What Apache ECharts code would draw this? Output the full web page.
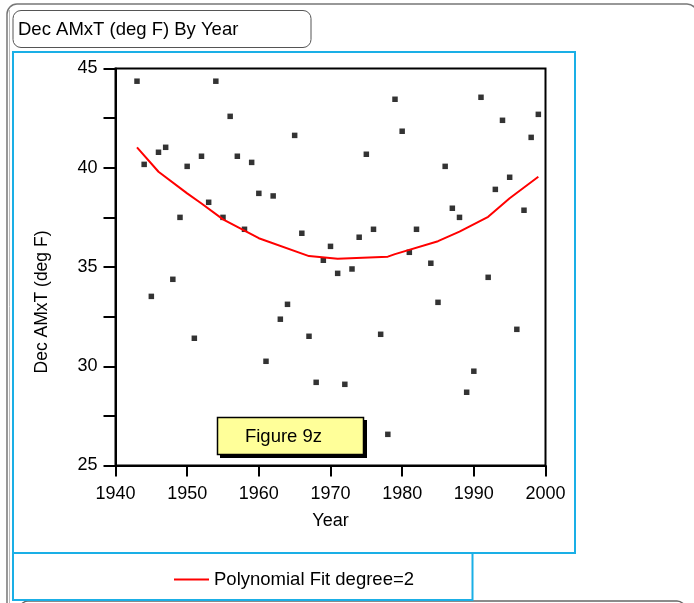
<!DOCTYPE html>
<html>
<head>
<meta charset="utf-8">
<script src="https://cdn.jsdelivr.net/npm/echarts@6/dist/echarts.min.js"></script>
<style>
html,body{margin:0;padding:0;background:#fff;}
#chart{width:694px;height:603px;}
</style>
</head>
<body>
<div id="chart"></div>
<script>
// Observed data
var years = [1943,1944,1945,1946,1947,1948,1949,1950,1951,1952,1953,1954,1955,1956,1957,1958,1959,1960,1961,1962,1963,1964,1965,1966,1967,1968,1969,1970,1971,1972,1973,1974,1975,1976,1977,1978,1979,1980,1981,1982,1984,1985,1986,1987,1988,1989,1990,1991,1992,1993,1994,1995,1996,1997,1998,1999];
var values = [44.36,40.17,33.52,40.78,41.03,34.38,37.50,40.07,31.41,40.58,38.26,44.36,37.50,42.59,40.58,36.90,40.27,38.71,30.25,38.58,32.37,33.12,41.63,36.70,31.51,29.19,35.34,36.04,34.68,29.09,34.90,36.50,40.68,36.90,31.61,26.57,43.45,41.84,35.74,36.90,35.19,33.22,40.07,37.96,37.50,28.69,29.75,43.55,34.48,38.91,42.39,39.52,31.86,37.86,41.53,42.69];
// Polynomial fit curve
var fitYears = [1943,1946,1950,1952,1955,1960,1967,1971,1978,1979,1985,1988,1992,1995,1999];
var fitValues = [41.03,39.80,38.71,38.20,37.40,36.45,35.55,35.42,35.52,35.65,36.30,36.78,37.53,38.46,39.55];
var xTicks = [1940,1950,1960,1970,1980,1990,2000];
var yTicks = [25,30,35,40,45];

var FONT = '"Liberation Sans", Arial, sans-serif';
var scatterData = years.map(function(y,i){return [y, values[i]];});
var fitData = fitYears.map(function(y,i){return [y, fitValues[i]];});
var BLUE = '#1aafe6';

var chart = echarts.init(document.getElementById('chart'), null, {renderer:'canvas'});
chart.setOption({
  animation:false,
  backgroundColor:'#fff',
  grid:{left:115.5, right:148.5, top:68.5, bottom:137.5, show:true, borderColor:'#000', borderWidth:2, backgroundColor:'transparent'},
  xAxis:{
    type:'value', min:xTicks[0], max:xTicks[xTicks.length-1], interval:10,
    axisLine:{show:true, onZero:false, lineStyle:{color:'#000', width:2}},
    axisTick:{show:true, length:11, lineStyle:{color:'#000', width:2}},
    axisLabel:{color:'#000', fontFamily:FONT, fontSize:18, margin:20,
      formatter:function(v){return String(v);}},
    splitLine:{show:false},
    name:'Year', nameLocation:'middle', nameGap:47,
    nameTextStyle:{color:'#000', fontFamily:FONT, fontSize:18}
  },
  yAxis:{
    type:'value', min:yTicks[0], max:yTicks[yTicks.length-1], interval:2.5,
    axisLine:{show:true, onZero:false, lineStyle:{color:'#000', width:2}},
    axisTick:{show:true, length:12, lineStyle:{color:'#000', width:2}},
    axisLabel:{color:'#000', fontFamily:FONT, fontSize:18, margin:18,
      formatter:function(v){return yTicks.indexOf(v)>=0 ? String(v) : '';}},
    splitLine:{show:false}
  },
  legend:{
    show:true, left:169, top:565, itemWidth:35, itemHeight:2, itemGap:8,
    data:[{name:'Polynomial Fit degree=2', icon:'rect'}],
    itemStyle:{color:'#ff0000'},
    textStyle:{color:'#000', fontFamily:FONT, fontSize:18.5}
  },
  series:[
    {type:'scatter', name:'Data', data:scatterData, symbol:'rect', symbolSize:5.5,
     itemStyle:{color:'#000'}, z:3},
    {type:'line', name:'Polynomial Fit degree=2', data:fitData, symbol:'none', smooth:false,
     lineStyle:{color:'#ff0000', width:2}, itemStyle:{color:'#ff0000'}, z:4}
  ],
  graphic:[
    // outer gray frame
    {type:'rect', shape:{x:7, y:4, width:690, height:620, r:10}, style:{fill:'none', stroke:'#777', lineWidth:1.5}, silent:true, z:-10},
    {type:'line', shape:{x1:9.5, y1:10, x2:9.5, y2:603}, style:{stroke:'#bbb', lineWidth:1}, silent:true, z:-10},
    // bottom next box
    {type:'rect', shape:{x:20, y:601, width:665, height:40, r:8}, style:{fill:'none', stroke:'#666', lineWidth:1.5}, silent:true, z:-10},
    // title box
    {type:'rect', shape:{x:13, y:10.5, width:298, height:37, r:8}, style:{fill:'#fff', stroke:'#555', lineWidth:1}, silent:true, z:-5},
    {type:'text', x:18, y:30, style:{text:'Dec AMxT (deg F) By Year', fill:'#000', font:'18.5px ' + FONT, textVerticalAlign:'middle', textAlign:'left'}, silent:true},
    // blue plot frame
    {type:'rect', shape:{x:13, y:52, width:562, height:501}, style:{fill:'none', stroke:BLUE, lineWidth:2}, silent:true, z:-5},
    // blue legend frame
    {type:'rect', shape:{x:13, y:553, width:459.5, height:47}, style:{fill:'none', stroke:BLUE, lineWidth:2}, silent:true, z:-5},
    // y axis title
    {type:'text', x:42, y:302, rotation:Math.PI/2, style:{text:'Dec AMxT (deg F)', fill:'#000', font:'17.5px ' + FONT, textAlign:'center', textVerticalAlign:'middle'}, silent:true},
    // Figure 9z box with shadow
    {type:'rect', shape:{x:220, y:420, width:147, height:38}, style:{fill:'#000'}, silent:true, z:20},
    {type:'rect', shape:{x:217.5, y:417.5, width:146, height:37}, style:{fill:'#ffff99', stroke:'#000', lineWidth:1.5}, silent:true, z:21},
    {type:'text', x:283.5, y:436.5, style:{text:'Figure 9z', fill:'#000', font:'18.5px ' + FONT, textAlign:'center', textVerticalAlign:'middle'}, silent:true, z:22}
  ]
});
</script>
</body>
</html>
